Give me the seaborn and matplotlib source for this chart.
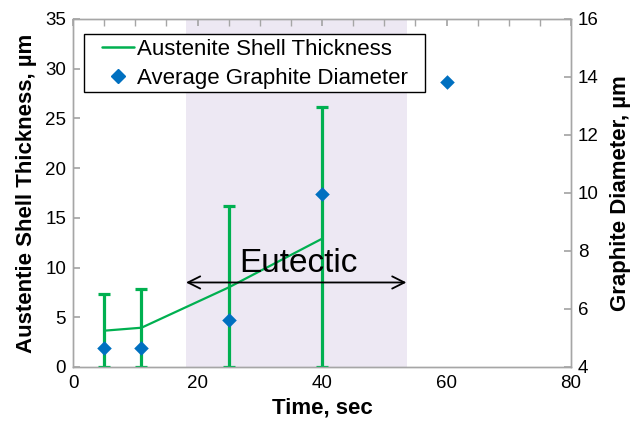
import matplotlib
matplotlib.use('Agg')
import matplotlib.pyplot as plt
from matplotlib.lines import Line2D
from matplotlib.patches import Rectangle
from matplotlib.ticker import MultipleLocator
import seaborn as sns
import pandas as pd

# data
time_shell = [5, 11, 25, 40]
shell_mean = [3.65, 3.95, 8.0, 12.9]
shell_upper = [7.35, 7.8, 16.2, 26.1]
shell_lower = [0, 0, 0, 0]

time_graphite = [5, 11, 25, 40, 60]
graphite_dia = [4.67, 4.64, 5.63, 9.95, 13.82]

eutectic_span = [18.2, 53.6]

green = '#00B050'
blue = '#0070C0'
gray = '#A6A6A6'

sns.set_theme(style='white')
plt.rcParams['font.family'] = ['Liberation Sans', 'DejaVu Sans']
plt.rcParams['text.color'] = 'black'
plt.rcParams['axes.labelcolor'] = 'black'
plt.rcParams['xtick.color'] = 'black'
plt.rcParams['ytick.color'] = 'black'

fig = plt.figure(figsize=(6.31, 4.25), dpi=100)
ax = fig.add_axes([0.1157, 0.1365, 0.7893, 0.8188])

# eutectic shading
ax.axvspan(eutectic_span[0], eutectic_span[1], color='#EDE8F3', zorder=0, lw=0)

# shell thickness with error bars
err_lo = [m - l for m, l in zip(shell_mean, shell_lower)]
err_hi = [u - m for m, u in zip(shell_mean, shell_upper)]
ax.errorbar(time_shell, shell_mean, yerr=[err_lo, err_hi], fmt='none',
            ecolor=green, elinewidth=2.3, capsize=4.5, capthick=2.3, zorder=3)
df_shell = pd.DataFrame({'t': time_shell, 'w': shell_mean})
sns.lineplot(data=df_shell, x='t', y='w', ax=ax, color=green, lw=1.6, zorder=3)

ax.set_xlim(0, 80)
ax.set_ylim(0, 35)
ax.set_xticks(range(0, 81, 20))
ax.xaxis.set_minor_locator(MultipleLocator(5))
ax.set_yticks(range(0, 36, 5))
ax.tick_params(axis='x', which='both', direction='in', top=True, length=5,
               color=gray, labelcolor='black', labelsize=13.5, pad=6)
ax.tick_params(axis='y', which='both', direction='in', length=5,
               color=gray, labelcolor='black', labelsize=13.5, pad=5)
ax.set_xlabel('Time, sec', fontsize=16, fontweight='bold', labelpad=4)
ax.set_ylabel('Austentie Shell Thickness, µm', fontsize=16, fontweight='bold', labelpad=6)

# eutectic arrow + text
ax.annotate('', xy=(17.7, 8.5), xytext=(54.0, 8.5),
            arrowprops=dict(arrowstyle='<->', color='black', lw=1.3,
                            mutation_scale=22), zorder=4)
ax.text(36.2, 9.6, 'Eutectic', fontsize=24, ha='center', va='baseline', zorder=4)

# graphite diameter on right axis
ax2 = ax.twinx()
sns.scatterplot(x=time_graphite, y=graphite_dia, ax=ax2, marker='D', s=55,
                color=blue, edgecolor=blue, linewidth=0, zorder=5)
ax2.set_ylim(4, 16)
ax2.set_yticks(range(4, 17, 2))
ax2.tick_params(axis='y', direction='in', length=5, color=gray,
                labelcolor='black', labelsize=13.5, pad=5)
ax2.set_ylabel('Graphite Diameter, µm', fontsize=16, fontweight='bold', labelpad=8)

for a in (ax, ax2):
    for s in a.spines.values():
        s.set_color(gray)
        s.set_linewidth(1.0)

# legend box drawn separately (wider side padding than matplotlib allows)
box = Rectangle((0.0221, 0.790), 0.6847, 0.1669, transform=ax2.transAxes,
                facecolor='white', edgecolor='black', lw=1.0, zorder=6)
ax2.add_patch(box)

handles = [Line2D([], [], color=green, lw=1.8),
           Line2D([], [], color=blue, marker='D', ls='none', markersize=7)]
leg = ax2.legend(handles, ['Austenite Shell Thickness', 'Average Graphite Diameter'],
                 loc='upper left', bbox_to_anchor=(0.0576, 0.9434), borderaxespad=0,
                 fontsize=16, frameon=False, handlelength=1.45, handletextpad=0.15,
                 labelspacing=0.38, borderpad=0)
leg.set_zorder(7)

fig.savefig('out.png', dpi=100)
